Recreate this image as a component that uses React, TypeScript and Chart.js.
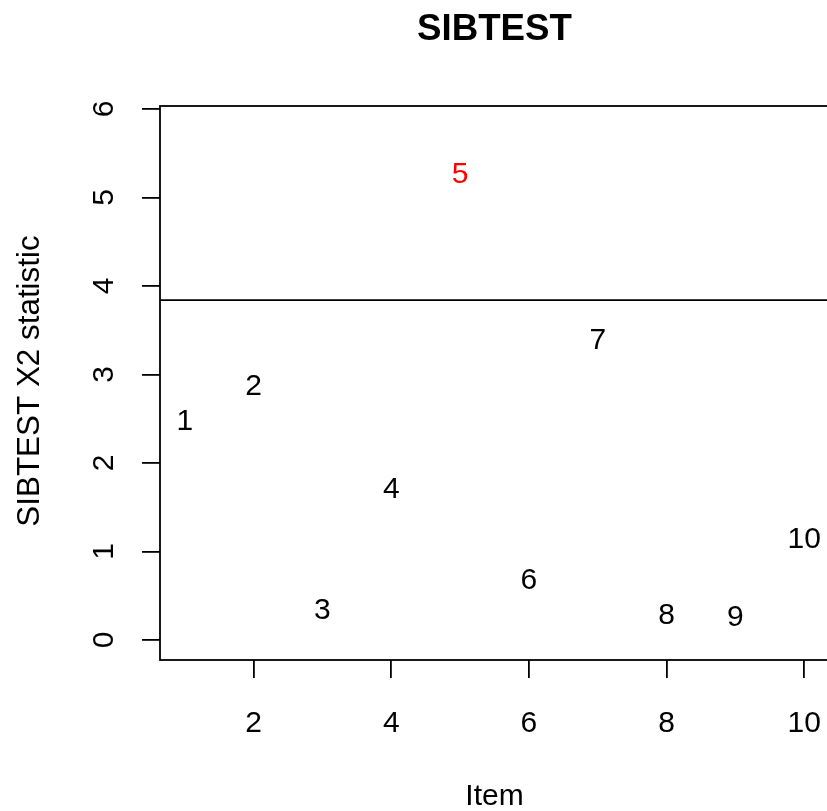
import React, { useEffect, useRef } from "react";
import { Chart, registerables } from "chart.js";

Chart.register(...registerables);

// ---- data ----
const items = [1, 2, 3, 4, 5, 6, 7, 8, 9, 10];
const sibtestStat = [2.49, 2.89, 0.36, 1.73, 5.29, 0.7, 3.41, 0.3, 0.28, 1.16];
const flagged = [false, false, false, false, true, false, false, false, false, false];
const threshold = 3.841;
const xTicks = [2, 4, 6, 8, 10];
const yTicks = [0, 1, 2, 3, 4, 5, 6];
const chartTitle = "SIBTEST";
const xTitle = "Item";
const yTitle = "SIBTEST X2 statistic";

// ---- style ----
const FONT = '"Liberation Sans", Arial, Helvetica, sans-serif';
const FS = 30;
const CAP = FS * 0.716;
const LW = 1.8;

const overlay = {
  id: "overlay",
  afterDatasetsDraw(chart: any) {
    const { ctx, chartArea: a, scales } = chart;
    const x = scales.x;
    const y = scales.y;
    ctx.save();
    ctx.strokeStyle = "#000";
    ctx.lineWidth = LW;
    ctx.strokeRect(a.left, a.top, a.right - a.left, a.bottom - a.top);
    const ty = y.getPixelForValue(threshold);
    ctx.beginPath();
    ctx.moveTo(a.left, ty);
    ctx.lineTo(a.right, ty);
    ctx.stroke();

    ctx.font = `${FS}px ${FONT}`;
    ctx.textAlign = "center";
    ctx.textBaseline = "alphabetic";
    const meta = chart.getDatasetMeta(0);
    meta.data.forEach((pt: any, i: number) => {
      ctx.fillStyle = flagged[i] ? "#FF0000" : "#000000";
      ctx.fillText(String(items[i]), pt.x, pt.y + CAP / 2);
    });

    ctx.fillStyle = "#000";
    x.ticks.forEach((t: any) => {
      ctx.fillText(String(t.value), x.getPixelForValue(t.value), a.bottom + 72);
    });
    y.ticks.forEach((t: any) => {
      const py = y.getPixelForValue(t.value);
      ctx.save();
      ctx.translate(a.left - 57.5, py);
      ctx.rotate(-Math.PI / 2);
      ctx.fillText(String(t.value), 0, CAP / 2);
      ctx.restore();
    });

    const cx = (a.left + a.right) / 2;
    ctx.fillText(xTitle, cx, a.bottom + 145);
    ctx.save();
    ctx.font = `31.4px ${FONT}`;
    ctx.translate(28, (a.top + a.bottom) / 2 - 2);
    ctx.rotate(-Math.PI / 2);
    ctx.fillText(yTitle, 0, CAP / 2);
    ctx.restore();

    ctx.font = `bold 36.7px ${FONT}`;
    ctx.fillText(chartTitle, cx, 40);
    ctx.restore();
  },
};

export default function App() {
  const ref = useRef<HTMLCanvasElement | null>(null);
  useEffect(() => {
    document.body.style.margin = "0";
    const canvas = ref.current;
    if (!canvas) return;
    const axisGrid = {
      drawOnChartArea: false,
      drawTicks: true,
      tickLength: 18,
      color: "#000",
      lineWidth: LW,
    };
    const chart = new Chart(canvas, {
      type: "scatter",
      data: {
        datasets: [
          {
            data: items.map((v, i) => ({ x: v, y: sibtestStat[i] })),
            pointRadius: 0,
            pointHoverRadius: 0,
            showLine: false,
          },
        ],
      },
      options: {
        responsive: false,
        animation: false,
        devicePixelRatio: 1,
        layout: { padding: { top: 106, right: 11, left: 0, bottom: 0 } },
        plugins: { legend: { display: false }, tooltip: { enabled: false }, title: { display: false } },
        scales: {
          x: {
            type: "linear",
            min: 0.64,
            max: 10.36,
            afterBuildTicks: (s: any) => {
              s.ticks = xTicks.map((v) => ({ value: v }));
            },
            afterFit: (s: any) => {
              s.height = 151;
            },
            ticks: { display: false },
            grid: axisGrid,
            border: { display: false },
          },
          y: {
            type: "linear",
            min: -0.226,
            max: 6.034,
            afterBuildTicks: (s: any) => {
              s.ticks = yTicks.map((v) => ({ value: v }));
            },
            afterFit: (s: any) => {
              s.width = 160;
            },
            ticks: { display: false },
            grid: axisGrid,
            border: { display: false },
          },
        },
      },
      plugins: [overlay],
    });
    return () => chart.destroy();
  }, []);
  return (
    <div style={{ width: 827, height: 811, overflow: "hidden", background: "#fff" }}>
      <canvas ref={ref} width={840} height={811} style={{ display: "block" }} />
    </div>
  );
}
